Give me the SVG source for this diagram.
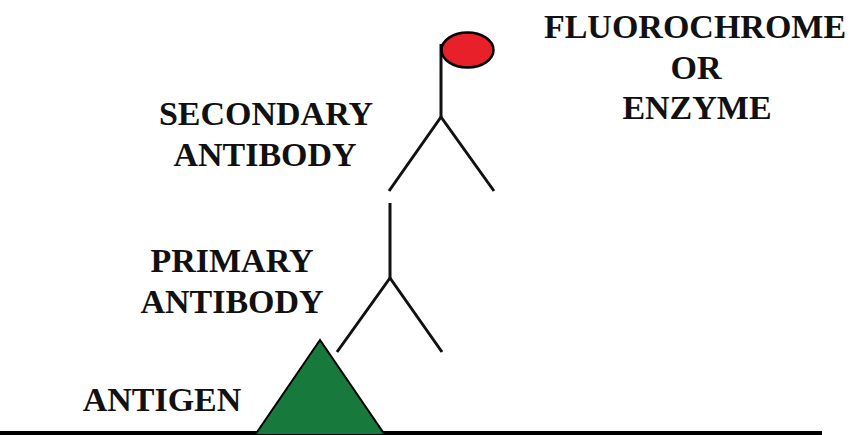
<svg xmlns="http://www.w3.org/2000/svg" width="865" height="435" viewBox="0 0 865 435">
<style>
.lbl{font-family:"Liberation Serif","Times New Roman",serif;font-weight:bold;font-size:34px;fill:#111;text-anchor:middle}
.ab{fill:none;stroke:#111;stroke-width:3;stroke-linecap:butt;stroke-linejoin:miter}
</style>
<rect width="865" height="435" fill="#fff"/>
<g id="ground"><line x1="0" y1="433" x2="822" y2="433" stroke="#000" stroke-width="4"/></g>
<g id="antigen"><polygon points="255,435 320,340 385,435" fill="#177a3c" stroke="#000" stroke-width="2"/></g>
<g id="primary-antibody"><polyline class="ab" points="337,352 390,278 442,352"/><line class="ab" x1="390" y1="203" x2="390" y2="278"/></g>
<g id="secondary-antibody"><polyline class="ab" points="389,191 441,117 494,191"/><line class="ab" x1="441" y1="117" x2="441" y2="44"/></g>
<g id="fluorochrome"><ellipse cx="467.5" cy="50" rx="26" ry="17.5" fill="#e8202a" stroke="#000" stroke-width="2.5"/></g>
<g id="labels">
<text class="lbl" x="695" y="38">FLUOROCHROME</text>
<text class="lbl" x="696" y="79">OR</text>
<text class="lbl" x="697" y="119">ENZYME</text>
<text class="lbl" x="266" y="125">SECONDARY</text>
<text class="lbl" x="265" y="166">ANTIBODY</text>
<text class="lbl" x="232" y="272">PRIMARY</text>
<text class="lbl" x="232" y="313">ANTIBODY</text>
<text class="lbl" x="162" y="411">ANTIGEN</text>
</g>
</svg>
